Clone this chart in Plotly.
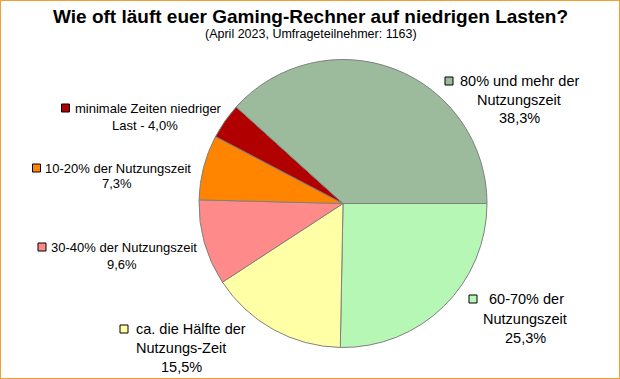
import plotly.graph_objects as go

# ---- data ----
categories = [
    "80% und mehr der Nutzungszeit",
    "minimale Zeiten niedriger Last",
    "10-20% der Nutzungszeit",
    "30-40% der Nutzungszeit",
    "ca. die Hälfte der Nutzungs-Zeit",
    "60-70% der Nutzungszeit",
]
values = [38.3, 4.0, 7.3, 9.6, 15.5, 25.3]
value_labels = ["38,3%", "4,0%", "7,3%", "9,6%", "15,5%", "25,3%"]
colors = ["#9cba9c", "#b00000", "#ff8400", "#ff8a8a", "#ffffa6", "#b6f7b6"]

title = "Wie oft läuft euer Gaming-Rechner auf niedrigen Lasten?"
subtitle = "(April 2023, Umfrageteilnehmer: 1163)"

W, H = 620, 379
FAMILY = "Liberation Sans, Arial, sans-serif"


def px(x):
    return x / W


def py(y):
    return 1 - y / H


fig = go.Figure()
# slices run counterclockwise from 3 o'clock; draw reversed order clockwise
fig.add_trace(go.Pie(
    labels=categories[::-1],
    values=values[::-1],
    sort=False,
    direction="clockwise",
    rotation=90,
    marker=dict(colors=colors[::-1], line=dict(color="#808080", width=1)),
    textinfo="none",
    hoverinfo="label+percent",
    showlegend=False,
    domain=dict(x=[px(343 - 144), px(343 + 144)], y=[py(347.5), py(59.5)]),
))

# (slice index, first line, text-left x, y, square-left x, other lines, center x, line ys, font size)
label_specs = [
    (0, "80% und mehr der", 458, 81, 445, ["Nutzungszeit", value_labels[0]], 519, [100, 118], 14.5),
    (5, "60-70% der", 487, 299, 469, ["Nutzungszeit", value_labels[5]], 525, [319, 338], 14.5),
    (4, "ca. die Hälfte der", 134, 329, 120, ["Nutzungs-Zeit", value_labels[4]], 181, [348, 367], 14.5),
    (3, "30-40% der Nutzungszeit", 49, 247, 38, [value_labels[3]], 122, [264], 13),
    (2, "10-20% der Nutzungszeit", 43, 168, 32.5, [value_labels[2]], 117, [184], 13),
    (1, "minimale Zeiten niedriger", 73, 108, 61.5, ["Last - " + value_labels[1]], 145, [125], 13),
]

annotations = [
    dict(text="<b>" + title + "</b>", x=px(310), y=py(17), xref="paper", yref="paper",
         showarrow=False, xanchor="center", yanchor="middle",
         font=dict(family=FAMILY, size=19, color="#000000")),
    dict(text=subtitle, x=px(311), y=py(34), xref="paper", yref="paper",
         showarrow=False, xanchor="center", yanchor="middle",
         font=dict(family=FAMILY, size=12.5, color="#000000")),
]
shapes = []
for idx, line1, tx, ty, sx, rest, cx, ys, fs in label_specs:
    font = dict(family=FAMILY, size=fs, color="#000000")
    annotations.append(dict(text=line1, x=px(tx), y=py(ty), xref="paper", yref="paper",
                            showarrow=False, xanchor="left", yanchor="middle", font=font))
    for t, yy in zip(rest, ys):
        annotations.append(dict(text=t, x=px(cx), y=py(yy), xref="paper", yref="paper",
                                showarrow=False, xanchor="center", yanchor="middle", font=font))
    shapes.append(dict(type="rect", xref="paper", yref="paper",
                       x0=px(sx), x1=px(sx + 8), y0=py(ty + 4), y1=py(ty - 4),
                       fillcolor=colors[idx], line=dict(color="#000000", width=1)))

shapes.append(dict(type="rect", xref="paper", yref="paper", x0=0, x1=1, y0=0, y1=1,
                   line=dict(color="#f0a030", width=2), fillcolor="rgba(0,0,0,0)"))

fig.update_layout(
    width=W, height=H,
    margin=dict(l=0, r=0, t=0, b=0),
    paper_bgcolor="#ffffff",
    plot_bgcolor="#ffffff",
    annotations=annotations,
    shapes=shapes,
)

fig.write_html("out.html", config={"displayModeBar": False},
               post_script="document.body.style.margin='0px';document.body.style.overflow='hidden';")
